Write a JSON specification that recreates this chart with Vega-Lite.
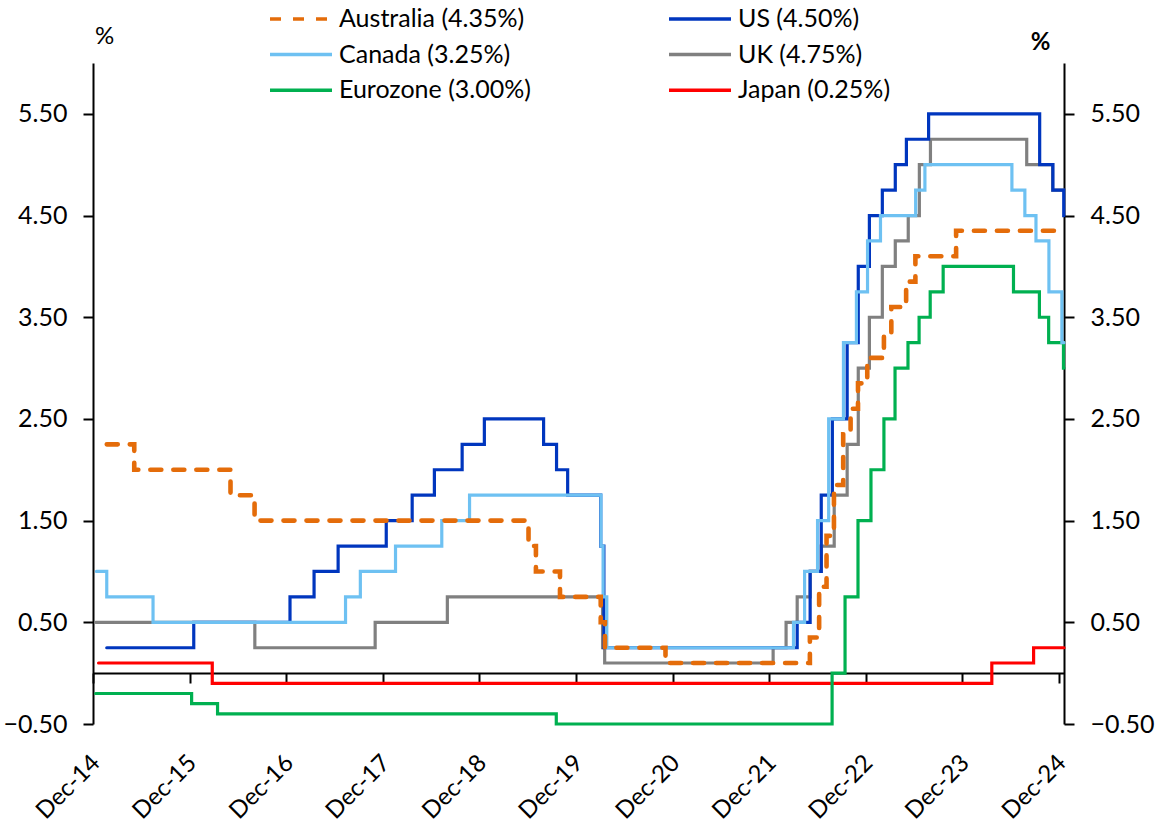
{
  "$schema": "https://vega.github.io/schema/vega-lite/v6.json",
  "width": 971,
  "height": 661,
  "autosize": {"type": "none"},
  "padding": {"left": 93, "top": 63, "right": 91, "bottom": 99},
  "background": "white",
  "config": {
    "view": {"stroke": null},
    "font": "Lato",
    "axis": {"labelFont": "Lato", "labelColor": "black", "domainColor": "black", "tickColor": "black", "domainWidth": 2, "tickWidth": 2, "grid": false, "labelFontSize": 25, "titleFont": "Lato", "titleColor": "black"}
  },
  "data": {
    "values": [
      {"series": "Japan (0.25%)", "date": "2014-12-22", "rate": 0.10},
      {"series": "Japan (0.25%)", "date": "2016-02-25", "rate": -0.10},
      {"series": "Japan (0.25%)", "date": "2024-03-22", "rate": 0.10},
      {"series": "Japan (0.25%)", "date": "2024-08-27", "rate": 0.25},
      {"series": "Japan (0.25%)", "date": "2024-12-20", "rate": 0.25},

      {"series": "Eurozone (3.00%)", "date": "2014-12-11", "rate": -0.20},
      {"series": "Eurozone (3.00%)", "date": "2015-12-09", "rate": -0.30},
      {"series": "Eurozone (3.00%)", "date": "2016-03-16", "rate": -0.40},
      {"series": "Eurozone (3.00%)", "date": "2019-09-18", "rate": -0.50},
      {"series": "Eurozone (3.00%)", "date": "2022-07-27", "rate": 0.00},
      {"series": "Eurozone (3.00%)", "date": "2022-09-14", "rate": 0.75},
      {"series": "Eurozone (3.00%)", "date": "2022-11-02", "rate": 1.50},
      {"series": "Eurozone (3.00%)", "date": "2022-12-21", "rate": 2.00},
      {"series": "Eurozone (3.00%)", "date": "2023-02-08", "rate": 2.50},
      {"series": "Eurozone (3.00%)", "date": "2023-03-22", "rate": 3.00},
      {"series": "Eurozone (3.00%)", "date": "2023-05-10", "rate": 3.25},
      {"series": "Eurozone (3.00%)", "date": "2023-06-21", "rate": 3.50},
      {"series": "Eurozone (3.00%)", "date": "2023-08-02", "rate": 3.75},
      {"series": "Eurozone (3.00%)", "date": "2023-09-20", "rate": 4.00},
      {"series": "Eurozone (3.00%)", "date": "2024-06-12", "rate": 3.75},
      {"series": "Eurozone (3.00%)", "date": "2024-09-18", "rate": 3.50},
      {"series": "Eurozone (3.00%)", "date": "2024-10-23", "rate": 3.25},
      {"series": "Eurozone (3.00%)", "date": "2024-12-18", "rate": 3.00},
      {"series": "Eurozone (3.00%)", "date": "2024-12-20", "rate": 3.00},

      {"series": "UK (4.75%)", "date": "2014-12-11", "rate": 0.50},
      {"series": "UK (4.75%)", "date": "2016-08-04", "rate": 0.25},
      {"series": "UK (4.75%)", "date": "2017-11-02", "rate": 0.50},
      {"series": "UK (4.75%)", "date": "2018-08-02", "rate": 0.75},
      {"series": "UK (4.75%)", "date": "2020-03-11", "rate": 0.25},
      {"series": "UK (4.75%)", "date": "2020-03-19", "rate": 0.10},
      {"series": "UK (4.75%)", "date": "2021-12-16", "rate": 0.25},
      {"series": "UK (4.75%)", "date": "2022-02-03", "rate": 0.50},
      {"series": "UK (4.75%)", "date": "2022-03-17", "rate": 0.75},
      {"series": "UK (4.75%)", "date": "2022-05-05", "rate": 1.00},
      {"series": "UK (4.75%)", "date": "2022-06-16", "rate": 1.25},
      {"series": "UK (4.75%)", "date": "2022-08-04", "rate": 1.75},
      {"series": "UK (4.75%)", "date": "2022-09-22", "rate": 2.25},
      {"series": "UK (4.75%)", "date": "2022-11-03", "rate": 3.00},
      {"series": "UK (4.75%)", "date": "2022-12-15", "rate": 3.50},
      {"series": "UK (4.75%)", "date": "2023-02-02", "rate": 4.00},
      {"series": "UK (4.75%)", "date": "2023-03-23", "rate": 4.25},
      {"series": "UK (4.75%)", "date": "2023-05-11", "rate": 4.50},
      {"series": "UK (4.75%)", "date": "2023-06-22", "rate": 5.00},
      {"series": "UK (4.75%)", "date": "2023-08-03", "rate": 5.25},
      {"series": "UK (4.75%)", "date": "2024-08-01", "rate": 5.00},
      {"series": "UK (4.75%)", "date": "2024-11-07", "rate": 4.75},
      {"series": "UK (4.75%)", "date": "2024-12-20", "rate": 4.75},

      {"series": "US (4.50%)", "date": "2015-01-22", "rate": 0.25},
      {"series": "US (4.50%)", "date": "2015-12-17", "rate": 0.50},
      {"series": "US (4.50%)", "date": "2016-12-15", "rate": 0.75},
      {"series": "US (4.50%)", "date": "2017-03-16", "rate": 1.00},
      {"series": "US (4.50%)", "date": "2017-06-15", "rate": 1.25},
      {"series": "US (4.50%)", "date": "2017-12-14", "rate": 1.50},
      {"series": "US (4.50%)", "date": "2018-03-22", "rate": 1.75},
      {"series": "US (4.50%)", "date": "2018-06-14", "rate": 2.00},
      {"series": "US (4.50%)", "date": "2018-09-27", "rate": 2.25},
      {"series": "US (4.50%)", "date": "2018-12-20", "rate": 2.50},
      {"series": "US (4.50%)", "date": "2019-08-01", "rate": 2.25},
      {"series": "US (4.50%)", "date": "2019-09-19", "rate": 2.00},
      {"series": "US (4.50%)", "date": "2019-10-31", "rate": 1.75},
      {"series": "US (4.50%)", "date": "2020-03-04", "rate": 1.25},
      {"series": "US (4.50%)", "date": "2020-03-16", "rate": 0.25},
      {"series": "US (4.50%)", "date": "2022-03-17", "rate": 0.50},
      {"series": "US (4.50%)", "date": "2022-05-05", "rate": 1.00},
      {"series": "US (4.50%)", "date": "2022-06-16", "rate": 1.75},
      {"series": "US (4.50%)", "date": "2022-07-28", "rate": 2.50},
      {"series": "US (4.50%)", "date": "2022-09-22", "rate": 3.25},
      {"series": "US (4.50%)", "date": "2022-11-03", "rate": 4.00},
      {"series": "US (4.50%)", "date": "2022-12-15", "rate": 4.50},
      {"series": "US (4.50%)", "date": "2023-02-02", "rate": 4.75},
      {"series": "US (4.50%)", "date": "2023-03-23", "rate": 5.00},
      {"series": "US (4.50%)", "date": "2023-05-04", "rate": 5.25},
      {"series": "US (4.50%)", "date": "2023-07-27", "rate": 5.50},
      {"series": "US (4.50%)", "date": "2024-09-19", "rate": 5.00},
      {"series": "US (4.50%)", "date": "2024-11-08", "rate": 4.75},
      {"series": "US (4.50%)", "date": "2024-12-19", "rate": 4.50},
      {"series": "US (4.50%)", "date": "2024-12-20", "rate": 4.50},

      {"series": "Canada (3.25%)", "date": "2014-12-14", "rate": 1.00},
      {"series": "Canada (3.25%)", "date": "2015-01-22", "rate": 0.75},
      {"series": "Canada (3.25%)", "date": "2015-07-16", "rate": 0.50},
      {"series": "Canada (3.25%)", "date": "2017-07-13", "rate": 0.75},
      {"series": "Canada (3.25%)", "date": "2017-09-07", "rate": 1.00},
      {"series": "Canada (3.25%)", "date": "2018-01-18", "rate": 1.25},
      {"series": "Canada (3.25%)", "date": "2018-07-12", "rate": 1.50},
      {"series": "Canada (3.25%)", "date": "2018-10-25", "rate": 1.75},
      {"series": "Canada (3.25%)", "date": "2020-03-05", "rate": 1.25},
      {"series": "Canada (3.25%)", "date": "2020-03-13", "rate": 0.75},
      {"series": "Canada (3.25%)", "date": "2020-03-27", "rate": 0.25},
      {"series": "Canada (3.25%)", "date": "2022-03-03", "rate": 0.50},
      {"series": "Canada (3.25%)", "date": "2022-04-14", "rate": 1.00},
      {"series": "Canada (3.25%)", "date": "2022-06-02", "rate": 1.50},
      {"series": "Canada (3.25%)", "date": "2022-07-14", "rate": 2.50},
      {"series": "Canada (3.25%)", "date": "2022-09-08", "rate": 3.25},
      {"series": "Canada (3.25%)", "date": "2022-10-27", "rate": 3.75},
      {"series": "Canada (3.25%)", "date": "2022-12-08", "rate": 4.25},
      {"series": "Canada (3.25%)", "date": "2023-01-26", "rate": 4.50},
      {"series": "Canada (3.25%)", "date": "2023-06-08", "rate": 4.75},
      {"series": "Canada (3.25%)", "date": "2023-07-13", "rate": 5.00},
      {"series": "Canada (3.25%)", "date": "2024-06-06", "rate": 4.75},
      {"series": "Canada (3.25%)", "date": "2024-07-25", "rate": 4.50},
      {"series": "Canada (3.25%)", "date": "2024-09-05", "rate": 4.25},
      {"series": "Canada (3.25%)", "date": "2024-10-24", "rate": 3.75},
      {"series": "Canada (3.25%)", "date": "2024-12-12", "rate": 3.25},
      {"series": "Canada (3.25%)", "date": "2024-12-20", "rate": 3.25},

      {"series": "Australia (4.35%)", "date": "2015-01-22", "rate": 2.25},
      {"series": "Australia (4.35%)", "date": "2015-05-06", "rate": 2.00},
      {"series": "Australia (4.35%)", "date": "2016-05-04", "rate": 1.75},
      {"series": "Australia (4.35%)", "date": "2016-08-03", "rate": 1.50},
      {"series": "Australia (4.35%)", "date": "2019-06-05", "rate": 1.25},
      {"series": "Australia (4.35%)", "date": "2019-07-03", "rate": 1.00},
      {"series": "Australia (4.35%)", "date": "2019-10-02", "rate": 0.75},
      {"series": "Australia (4.35%)", "date": "2020-03-04", "rate": 0.50},
      {"series": "Australia (4.35%)", "date": "2020-03-20", "rate": 0.25},
      {"series": "Australia (4.35%)", "date": "2020-11-04", "rate": 0.10},
      {"series": "Australia (4.35%)", "date": "2022-05-04", "rate": 0.35},
      {"series": "Australia (4.35%)", "date": "2022-06-08", "rate": 0.85},
      {"series": "Australia (4.35%)", "date": "2022-07-06", "rate": 1.35},
      {"series": "Australia (4.35%)", "date": "2022-08-03", "rate": 1.85},
      {"series": "Australia (4.35%)", "date": "2022-09-07", "rate": 2.35},
      {"series": "Australia (4.35%)", "date": "2022-10-05", "rate": 2.60},
      {"series": "Australia (4.35%)", "date": "2022-11-02", "rate": 2.85},
      {"series": "Australia (4.35%)", "date": "2022-12-07", "rate": 3.10},
      {"series": "Australia (4.35%)", "date": "2023-02-08", "rate": 3.35},
      {"series": "Australia (4.35%)", "date": "2023-03-08", "rate": 3.60},
      {"series": "Australia (4.35%)", "date": "2023-05-03", "rate": 3.85},
      {"series": "Australia (4.35%)", "date": "2023-06-07", "rate": 4.10},
      {"series": "Australia (4.35%)", "date": "2023-11-08", "rate": 4.35},
      {"series": "Australia (4.35%)", "date": "2024-12-20", "rate": 4.35}
    ]
  },
  "layer": [
    {
      "mark": {"type": "line", "interpolate": "step-after", "strokeCap": "round", "strokeJoin": "miter"},
      "encoding": {
        "x": {
          "field": "date", "type": "temporal",
          "scale": {"type": "utc", "domain": [{"year": 2014, "month": 12, "date": 1, "utc": true}, {"year": 2024, "month": 12, "date": 20, "utc": true}]},
          "axis": {
            "orient": "bottom", "domain": false, "ticks": false, "tickSize": 0,
            "labelAngle": -45, "labelAlign": "right", "labelBaseline": "middle",
            "labelPadding": 35, "labelOffset": 3, "labelFontSize": 24, "format": "%b-%y",
            "labelOverlap": false, "title": null,
            "values": [
              {"year": 2014, "month": 12, "date": 1, "utc": true},
              {"year": 2015, "month": 12, "date": 1, "utc": true},
              {"year": 2016, "month": 12, "date": 1, "utc": true},
              {"year": 2017, "month": 12, "date": 1, "utc": true},
              {"year": 2018, "month": 12, "date": 1, "utc": true},
              {"year": 2019, "month": 12, "date": 1, "utc": true},
              {"year": 2020, "month": 12, "date": 1, "utc": true},
              {"year": 2021, "month": 12, "date": 1, "utc": true},
              {"year": 2022, "month": 12, "date": 1, "utc": true},
              {"year": 2023, "month": 12, "date": 1, "utc": true},
              {"year": 2024, "month": 12, "date": 1, "utc": true}
            ]
          }
        },
        "y": {
          "field": "rate", "type": "quantitative",
          "scale": {"domain": [-0.5, 6], "nice": false, "zero": false},
          "axis": {
            "orient": "left", "values": [-0.5, 0.5, 1.5, 2.5, 3.5, 4.5, 5.5], "format": ".2f",
            "tickSize": 10, "labelPadding": 16,
            "title": "%", "titleAngle": 0, "titleX": 11, "titleY": -27, "titleAlign": "center", "titleBaseline": "middle",
            "titleFontWeight": "normal", "titleFontSize": 24
          }
        },
        "color": {
          "field": "series", "type": "nominal",
          "scale": {
            "domain": ["Australia (4.35%)", "Canada (3.25%)", "Eurozone (3.00%)", "US (4.50%)", "UK (4.75%)", "Japan (0.25%)"],
            "range": ["#E46C0A", "#6EC1F2", "#00B050", "#0036BE", "#808080", "#FF0000"]
          },
          "legend": {
            "orient": "none", "legendX": 190.5, "legendY": -61.7, "columns": 2, "title": null,
            "symbolType": "M-2,0H2", "symbolSize": 961, "symbolStrokeWidth": 3.4, "symbolFillColor": "transparent",
            "labelFontSize": 25, "labelFont": "Lato", "labelColor": "black",
            "labelLimit": 400, "labelOffset": 20.5, "rowPadding": 4.7, "columnPadding": 130, "padding": 0
          }
        },
        "strokeDash": {
          "field": "series", "type": "nominal",
          "scale": {
            "domain": ["Australia (4.35%)", "Canada (3.25%)", "Eurozone (3.00%)", "US (4.50%)", "UK (4.75%)", "Japan (0.25%)"],
            "range": [[11, 12], [1, 0], [1, 0], [1, 0], [1, 0], [1, 0]]
          }
        },
        "strokeWidth": {
          "condition": {"test": "datum.series === 'Australia (4.35%)'", "value": 4.6},
          "value": 3.2
        }
      }
    },
    {
      "mark": {"type": "line", "opacity": 0},
      "encoding": {
        "x": {
          "field": "date", "type": "temporal",
          "axis": {
            "orient": "bottom", "offset": -51, "labels": false, "domain": true, "ticks": true, "tickSize": 10, "title": null,
            "values": [
              {"year": 2014, "month": 12, "date": 1, "utc": true},
              {"year": 2015, "month": 12, "date": 1, "utc": true},
              {"year": 2016, "month": 12, "date": 1, "utc": true},
              {"year": 2017, "month": 12, "date": 1, "utc": true},
              {"year": 2018, "month": 12, "date": 1, "utc": true},
              {"year": 2019, "month": 12, "date": 1, "utc": true},
              {"year": 2020, "month": 12, "date": 1, "utc": true},
              {"year": 2021, "month": 12, "date": 1, "utc": true},
              {"year": 2022, "month": 12, "date": 1, "utc": true},
              {"year": 2023, "month": 12, "date": 1, "utc": true},
              {"year": 2024, "month": 12, "date": 1, "utc": true}
            ]
          }
        },
        "y": {
          "field": "rate", "type": "quantitative",
          "axis": {
            "orient": "right", "values": [-0.5, 0.5, 1.5, 2.5, 3.5, 4.5, 5.5], "format": ".2f",
            "tickSize": 10, "labelPadding": 16,
            "title": "%", "titleAngle": 0, "titleX": -24, "titleY": -21, "titleAlign": "center", "titleBaseline": "middle",
            "titleFontWeight": "bold", "titleFontSize": 24
          }
        },
        "detail": {"field": "series", "type": "nominal"}
      }
    }
  ],
  "resolve": {"axis": {"x": "independent", "y": "independent"}}
}
